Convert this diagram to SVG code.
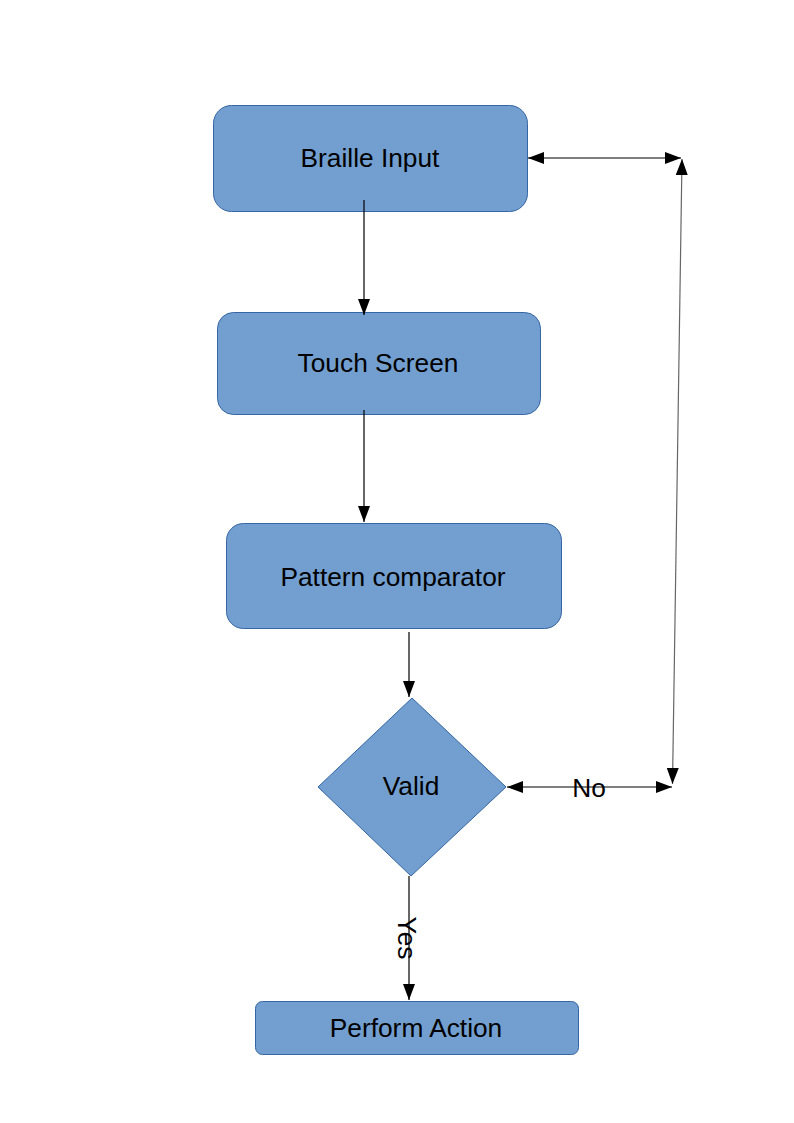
<svg xmlns="http://www.w3.org/2000/svg" width="794" height="1123" viewBox="0 0 794 1123">
<defs>
<style>
.box{fill:#729fcf;stroke:#3465a4;stroke-width:1}
.lbl{font-family:"Liberation Sans",Arial,sans-serif;font-size:26.3px;fill:#000;text-anchor:middle}
.ln{stroke:#000;stroke-width:1.2;fill:none}
.ln2{stroke:#666;stroke-width:1.2;fill:none}
</style>
<marker id="ah" viewBox="0 0 16 12" refX="16" refY="6" markerWidth="16" markerHeight="12" markerUnits="userSpaceOnUse" orient="auto-start-reverse">
<path d="M0,0 L16,6 L0,12 Z" fill="#000"/>
</marker>
</defs>
<rect width="794" height="1123" fill="#fff"/>
<g id="braille-input">
<rect class="box" x="213.5" y="105.5" width="314" height="106" rx="18"/>
<text class="lbl" x="370" y="167">Braille Input</text>
</g>
<g id="touch-screen">
<rect class="box" x="217.5" y="312.5" width="323" height="102" rx="16"/>
<text class="lbl" x="378" y="372">Touch Screen</text>
</g>
<g id="pattern-comparator">
<rect class="box" x="226.5" y="523.5" width="335" height="105" rx="17"/>
<text class="lbl" x="393" y="586">Pattern comparator</text>
</g>
<g id="valid">
<polygon class="box" points="412,698 506,787 411,876 318,787"/>
<text class="lbl" x="411" y="795">Valid</text>
</g>
<g id="perform-action">
<rect class="box" x="255.5" y="1001.5" width="323" height="53" rx="7"/>
<text class="lbl" x="416" y="1037">Perform Action</text>
</g>
<g id="connectors">
<line class="ln" x1="364" y1="200" x2="364" y2="315" marker-end="url(#ah)"/>
<line class="ln" x1="364" y1="410" x2="364" y2="522" marker-end="url(#ah)"/>
<line class="ln" x1="409" y1="632" x2="409" y2="697" marker-end="url(#ah)"/>
<line class="ln" x1="409" y1="876" x2="409" y2="1000" marker-end="url(#ah)"/>
<line class="ln" x1="528" y1="158" x2="681" y2="158" marker-start="url(#ah)" marker-end="url(#ah)"/>
<line class="ln" x1="507" y1="787" x2="672" y2="787" marker-start="url(#ah)" marker-end="url(#ah)"/>
<line class="ln2" x1="682" y1="159" x2="672.5" y2="784" marker-start="url(#ah)" marker-end="url(#ah)"/>
<text class="lbl" x="589" y="797">No</text>
<text class="lbl" transform="translate(398,938) rotate(90)" x="0" y="0">Yes</text>
</g>
</svg>
